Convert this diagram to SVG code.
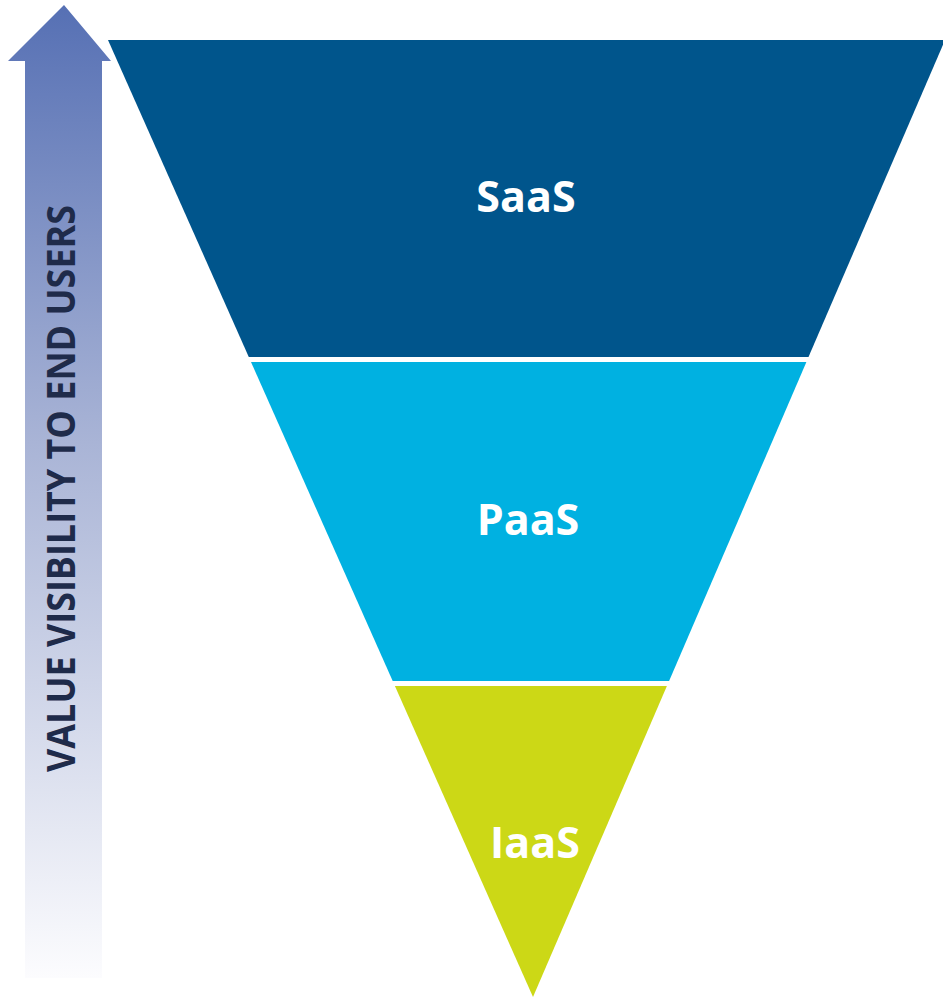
<svg xmlns="http://www.w3.org/2000/svg" width="943" height="997" viewBox="0 0 943 997">
<defs>
<linearGradient id="arrowGrad" x1="0" y1="0" x2="0" y2="1">
<stop offset="0" stop-color="#5670B4"/>
<stop offset="0.45" stop-color="#A9B4D6"/>
<stop offset="1" stop-color="#FCFCFE"/>
</linearGradient>
<style>
.lbl{font-family:"Open Sans","Liberation Sans",sans-serif;font-weight:bold;font-size:43px;fill:#FFFFFF;text-anchor:middle}
.axis{font-family:"Open Sans","Liberation Sans",sans-serif;font-weight:bold;font-size:39px;fill:#1F2B4A;text-anchor:middle}
</style>
</defs>
<g id="arrow">
<polygon points="64,5 111,61 102,61 102,978 25,978 25,61 8,61" fill="url(#arrowGrad)"/>
<text class="axis" transform="translate(75,488.5) rotate(-90)" x="0" y="0" textLength="567" lengthAdjust="spacingAndGlyphs">VALUE VISIBILITY TO END USERS</text>
</g>
<g id="saas">
<polygon points="108,40 945,40 808.5,357 248.8,357" fill="#00558C"/>
<text class="lbl" x="526" y="212">SaaS</text>
</g>
<g id="paas">
<polygon points="251,362 806.4,362 669.1,681 392.7,681" fill="#00B1E1"/>
<text class="lbl" x="528" y="535">PaaS</text>
</g>
<g id="iaas">
<polygon points="394.9,686 666.9,686 533,997" fill="#CCD816"/>
<text class="lbl" x="535" y="858">IaaS</text>
</g>
<g id="connectors"/>
</svg>
